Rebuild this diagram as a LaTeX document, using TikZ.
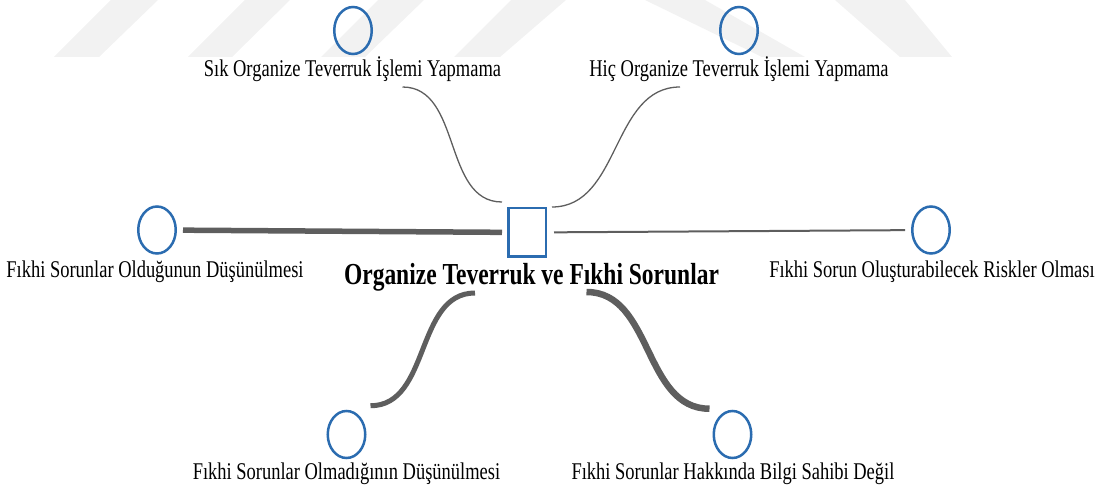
\documentclass[tikz,border=0pt]{standalone}
\usepackage{fontspec}
\setmainfont{Liberation Serif}[FakeStretch=0.77]
\usetikzlibrary{shapes.geometric,calc}

\definecolor{ringblue}{HTML}{2B6CB0}
\definecolor{linkgray}{HTML}{5E5E5E}
\definecolor{markgray}{HTML}{F2F2F2}

\begin{document}
\begin{tikzpicture}[x=1pt, y=-1pt,
    ring/.style={ellipse, draw=ringblue, line width=2.5pt, minimum width=37.5pt, minimum height=47pt, inner sep=0pt},
    hub/.style={rectangle, draw=ringblue, line width=2.5pt, minimum width=37.5pt, minimum height=48.5pt, inner sep=0pt},
    lbl/.style={anchor=base, inner sep=0pt, font=\fontsize{24}{28}\selectfont},
    link/.style={draw=linkgray}]
    \useasboundingbox (0,0) rectangle (1109,489);

    % Watermark stripes
    \fill[markgray] (54,57) -- (111,0) -- (158,0) -- (99,57) -- cycle;
    \fill[markgray] (188,57) -- (245,0) -- (290,0) -- (232,57) -- cycle;
    \fill[markgray] (321,57) -- (378,0) -- (424,0) -- (365,57) -- cycle;
    \fill[markgray] (454,57) -- (511,0) -- (566,0) -- (500,57) -- cycle;
    \fill[markgray] (645,0) -- (705,0) -- (805,57) -- (762,57) -- cycle;
    \fill[markgray] (835,0) -- (905,0) -- (952,57) -- (900,57) -- cycle;

    % Centre
    \node[hub] (merkez) at (527,232.5) {};
    \node[lbl, font=\bfseries\fontsize{30.5}{34}\selectfont] (baslik) at (531.5,284) {Organize Teverruk ve Fıkhi Sorunlar};

    % Top
    \node[ring] (sik) at (353,30.5) {};
    \node[lbl] (sikL) at (352.5,77) {Sık Organize Teverruk İşlemi Yapmama};
    \node[ring] (hic) at (739,30.5) {};
    \node[lbl] (hicL) at (739,77) {Hiç Organize Teverruk İşlemi Yapmama};

    % Sides
    \node[ring] (olduk) at (157,230) {};
    \node[lbl] (oldukL) at (155,278) {Fıkhi Sorunlar Olduğunun Düşünülmesi};
    \node[ring] (risk) at (931,230) {};
    \node[lbl] (riskL) at (932,278) {Fıkhi Sorun Oluşturabilecek Riskler Olması};

    % Bottom
    \node[ring] (olmad) at (346.5,434.5) {};
    \node[lbl] (olmadL) at (346.5,479) {Fıkhi Sorunlar Olmadığının Düşünülmesi};
    \node[ring] (bilgi) at (732.5,434.5) {};
    \node[lbl] (bilgiL) at (733,479) {Fıkhi Sorunlar Hakkında Bilgi Sahibi Değil};

    % Links
    \draw[link, line width=1.3pt] ($(sikL.base)+(50,10)$) to[out=0, in=180] ($(merkez.north west)+(-5,-5)$);
    \draw[link, line width=1.3pt] ($(merkez.north east)+(5,0)$) to[out=0, in=180] ($(hicL.base)+(-59,10)$);
    \draw[link, line width=5.5pt, shorten <=6pt, shorten >=5pt] (olduk) -- (merkez);
    \draw[link, line width=2pt, shorten <=7pt, shorten >=6pt] (merkez) -- (risk);
    \draw[link, line width=5pt] ($(olmad.north)+(24,-4)$) to[out=0, in=180] ($(baslik.base)+(-56.5,9)$);
    \draw[link, line width=6.5pt] ($(baslik.base)+(55,8)$) to[out=0, in=180] ($(bilgi.north)+(-23,-1)$);

\end{tikzpicture}
\end{document}
